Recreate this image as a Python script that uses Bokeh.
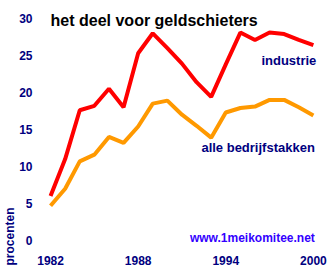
import math
from bokeh.plotting import figure
from bokeh.models import Range1d, FixedTicker, Label, Title
from bokeh.embed import file_html
from bokeh.resources import INLINE

years = list(range(1982, 2001))
industrie = [6.0, 11.0, 17.6, 18.2, 20.5, 18.0, 25.3, 28.0, 26.0, 23.9, 21.4, 19.4,
             23.8, 28.1, 27.1, 28.1, 27.9, 27.1, 26.4]
alle = [4.7, 7.0, 10.7, 11.6, 14.0, 13.2, 15.4, 18.5, 18.9, 17.0, 15.5, 13.9,
        17.3, 17.9, 18.1, 19.0, 19.0, 18.0, 16.9]
x_ticks = [1982, 1988, 1994, 2000]
y_ticks = [0, 5, 10, 15, 20, 25, 30]
title_text = "het deel voor geldschieters"
label_industrie = "industrie"
label_alle = "alle bedrijfstakken"
watermark = "www.1meikomitee.net"
y_label = "procenten"

FONT = "Liberation Sans"
NAVY = "#000080"

p = figure(width=334, height=276, output_backend="svg", toolbar_location=None,
           x_range=Range1d(1981.38, 2000.83), y_range=Range1d(-0.81, 31.08),
           min_border_left=40, min_border_right=9, min_border_top=10, min_border_bottom=30)
p.outline_line_color = None
p.xgrid.visible = False
p.ygrid.visible = False
p.background_fill_color = "white"

for ax in (p.xaxis[0], p.yaxis[0]):
    ax.axis_line_color = None
    ax.major_tick_line_color = None
    ax.minor_tick_line_color = None
    ax.major_label_text_font = FONT
    ax.major_label_text_font_style = "bold"
    ax.major_label_text_font_size = "12px"
    ax.major_label_text_color = NAVY
p.xaxis[0].ticker = FixedTicker(ticks=x_ticks)
p.yaxis[0].ticker = FixedTicker(ticks=y_ticks)
p.xaxis[0].major_label_standoff = 3
p.yaxis[0].major_label_standoff = 3

p.line(years, industrie, line_color="#ff0000", line_width=4)
p.line(years, alle, line_color="#ff9900", line_width=4)

p.add_layout(Label(x=1982, y=29.7, text=title_text, text_font=FONT, text_font_style="bold",
                   text_font_size="16px", text_color="black", text_baseline="middle", text_align="left"))
p.add_layout(Label(x=2000.2, y=24.3, text=label_industrie, text_font=FONT, text_font_style="bold",
                   text_font_size="13px", text_color=NAVY, text_baseline="middle", text_align="right"))
p.add_layout(Label(x=2000.1, y=12.6, text=label_alle, text_font=FONT, text_font_style="bold",
                   text_font_size="13px", text_color=NAVY, text_baseline="middle", text_align="right"))
p.add_layout(Label(x=2000.1, y=0.3, text=watermark, text_font=FONT, text_font_style="bold",
                   text_font_size="12px", text_color="#3300ff", text_baseline="middle", text_align="right"))
p.add_layout(Title(text=y_label, align="left", offset=-19, standoff=0,
                   text_font=FONT, text_font_style="bold", text_font_size="12px",
                   text_color=NAVY), "left")

open("out.html", "w").write(file_html(p, INLINE))
